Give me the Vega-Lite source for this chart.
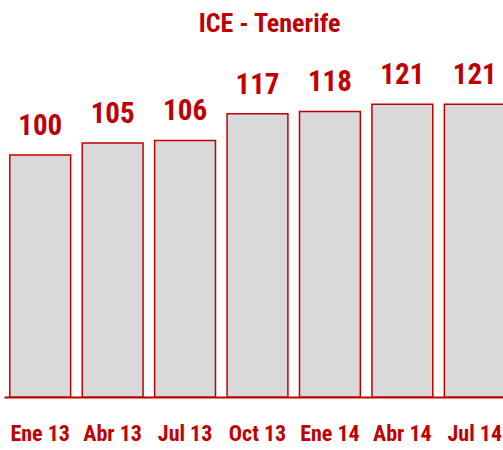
{
  "$schema": "https://vega.github.io/schema/vega-lite/v6.json",
  "autosize": "none",
  "width": 499,
  "height": 363,
  "padding": {"left": 4, "top": 34, "right": 0, "bottom": 53},
  "background": "white",
  "config": {"view": {"stroke": null}},
  "title": {"text": "ICE - Tenerife", "color": "#C00000", "font": "Roboto Condensed, serif", "fontSize": 26, "fontWeight": "bold", "anchor": "middle", "offset": 0, "dx": 16, "dy": 3},
  "data": {"values": [
    {"periodo": "Ene 13", "valor": 100},
    {"periodo": "Abr 13", "valor": 105},
    {"periodo": "Jul 13", "valor": 106},
    {"periodo": "Oct 13", "valor": 117},
    {"periodo": "Ene 14", "valor": 118},
    {"periodo": "Abr 14", "valor": 121},
    {"periodo": "Jul 14", "valor": 121}
  ]},
  "encoding": {
    "x": {"field": "periodo", "type": "nominal", "sort": null,
      "scale": {"range": [0, 507], "paddingInner": 0.16, "paddingOuter": 0.08},
      "axis": {"title": null, "labelAngle": 0, "ticks": false, "domainColor": "#C00000", "domainWidth": 2,
        "labelColor": "#C00000", "labelFont": "Roboto Condensed, serif", "labelFontSize": 22, "labelFontWeight": "bold", "labelPadding": 26}},
    "y": {"field": "valor", "type": "quantitative", "scale": {"domain": [0, 150]}, "axis": null}
  },
  "layer": [
    {"mark": {"type": "bar", "fill": "#D9D9D9", "stroke": "#C00000", "strokeWidth": 1.5}},
    {"mark": {"type": "text", "color": "#C00000", "font": "Roboto Condensed, serif", "fontSize": 29, "fontWeight": "bold", "baseline": "alphabetic", "dy": -20},
     "encoding": {"text": {"field": "valor", "type": "quantitative"}}}
  ]
}
